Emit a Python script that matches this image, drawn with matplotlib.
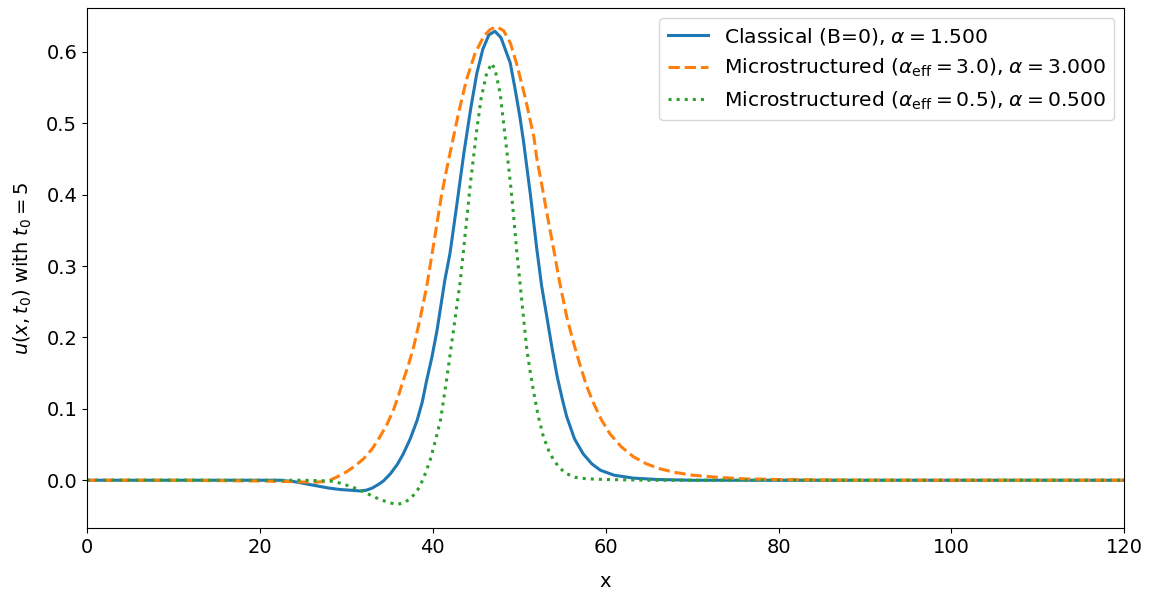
import numpy as np
import matplotlib
matplotlib.use("Agg")
import matplotlib.pyplot as plt

# Classical (B=0), alpha = 1.5
x_classical = [0, 10, 20, 22.3, 24, 26.2, 28, 29.3, 30.5, 31.6, 32.3, 33.0, 33.7, 34.3, 35.1, 35.9, 36.6, 37.4, 38.2,
               38.8, 39.3, 39.9, 40.5, 41.4, 42.0, 42.8, 43.6, 44.4, 45.1, 45.8, 46.5, 47.2, 47.9, 48.5, 48.96,
               49.5, 50.1, 50.5, 51.3, 52.05, 52.6, 53.2, 53.8, 54.4, 55.0, 55.5, 56.4, 57.4, 58.4, 59.4, 61.0,
               63.2, 66, 70, 80, 90, 100, 110, 120]
u_classical = [0.0, 0.0, 0.0, 0.0, -0.002, -0.007, -0.011, -0.013, -0.014, -0.015, -0.014, -0.011, -0.006, -0.001,
               0.009, 0.022, 0.037, 0.058, 0.084, 0.110, 0.140, 0.172, 0.210, 0.280, 0.318, 0.387, 0.458, 0.521, 0.570,
               0.604, 0.624, 0.629, 0.620, 0.600, 0.585, 0.550, 0.508, 0.475, 0.400, 0.323, 0.272, 0.229, 0.185,
               0.145, 0.113, 0.089, 0.058, 0.037, 0.023, 0.014, 0.007, 0.003, 0.001, 0.0, 0.0, 0.0, 0.0, 0.0, 0.0]

# Microstructured (alpha_eff = 3.0)
x_micro3 = [0, 10, 20, 24, 26, 27.3, 28.1, 29.0, 30.06, 31.0, 32.0, 33.0, 33.9, 34.7, 35.45, 36.0, 36.6, 37.2,
            37.8, 38.5, 39.3, 40.1, 41.0, 41.6, 42.0, 43.0, 43.9, 44.9, 45.9, 46.7, 47.4, 48.2, 49.0, 49.7, 50.7,
            51.7, 52.05, 52.6, 53.3, 54.0, 54.7, 55.5, 56.3, 57.1, 57.8, 58.6, 59.5, 60.5, 61.8, 63.2, 64.7, 66.3,
            68, 70.1, 73, 76, 80, 90, 100, 110, 120]
u_micro3 = [0.0, 0.0, -0.001, -0.002, -0.003, -0.002, 0.0, 0.005, 0.012, 0.020, 0.030, 0.044, 0.061, 0.078, 0.098,
            0.117, 0.140, 0.162, 0.187, 0.224, 0.271, 0.330, 0.398, 0.435, 0.458, 0.515, 0.561, 0.598, 0.622, 0.632,
            0.635, 0.630, 0.612, 0.584, 0.536, 0.481, 0.450, 0.415, 0.368, 0.323, 0.276, 0.229, 0.192, 0.159, 0.132,
            0.108, 0.085, 0.065, 0.047, 0.033, 0.023, 0.016, 0.011, 0.007, 0.004, 0.002, 0.001, 0.0, 0.0, 0.0, 0.0]

# Microstructured (alpha_eff = 0.5)
x_micro05 = [0, 10, 20, 25, 28.1, 29.0, 30.06, 31.0, 32.0, 33.0, 33.9, 34.9, 35.8, 36.6, 37.4, 38.0, 38.5, 39.1,
             39.7, 40.3, 40.9, 41.6, 42.4, 43.2, 43.8, 44.4, 45.1, 45.6, 46.2, 46.8, 47.2, 47.8, 48.2, 48.6, 49.0,
             49.4, 49.7, 50.1, 50.5, 50.9, 51.3, 51.7, 52.2, 52.8, 53.4, 54.0, 54.7, 55.5, 56.5, 57.8, 60, 65, 70,
             80, 90, 100, 110, 120]
u_micro05 = [0.0, 0.0, 0.0, 0.0, -0.001, -0.003, -0.007, -0.011, -0.016, -0.022, -0.027, -0.031, -0.034, -0.032,
             -0.026, -0.018, -0.009, 0.008, 0.028, 0.055, 0.084, 0.140, 0.210, 0.280, 0.350, 0.420, 0.491, 0.535,
             0.568, 0.584, 0.576, 0.542, 0.500, 0.458, 0.415, 0.365, 0.323, 0.276, 0.228, 0.182, 0.150, 0.122,
             0.090, 0.061, 0.042, 0.028, 0.017, 0.009, 0.004, 0.002, 0.001, 0.0, 0.0, 0.0, 0.0, 0.0, 0.0, 0.0]

labels = [r"Classical (B=0), $\alpha = 1.500$",
          r"Microstructured ($\alpha_{\mathrm{eff}} = 3.0$), $\alpha = 3.000$",
          r"Microstructured ($\alpha_{\mathrm{eff}} = 0.5$), $\alpha = 0.500$"]

plt.rcParams['font.size'] = 14
fig = plt.figure(figsize=(11.58, 5.94), dpi=100)
ax = fig.add_axes([0.075, 0.111, 0.896, 0.876])

ax.plot(x_classical, u_classical, color="#1f77b4", lw=2.2, ls="-", label=labels[0])
ax.plot(x_micro3, u_micro3, color="#ff7f0e", lw=2.2, ls="--", label=labels[1])
ax.plot(x_micro05, u_micro05, color="#2ca02c", lw=2.2, ls=":", label=labels[2])

ax.set_xlim(0, 120)
ax.set_ylim(-0.067, 0.662)
ax.set_xticks([0, 20, 40, 60, 80, 100, 120])
ax.set_yticks([0.0, 0.1, 0.2, 0.3, 0.4, 0.5, 0.6])
ax.set_xlabel("x", labelpad=11)
ax.set_ylabel(r"$u(x,t_0)$ with $t_0=5$", labelpad=9)
ax.legend(loc="upper right", fontsize=14.6)

fig.savefig("out.png", dpi=100)
